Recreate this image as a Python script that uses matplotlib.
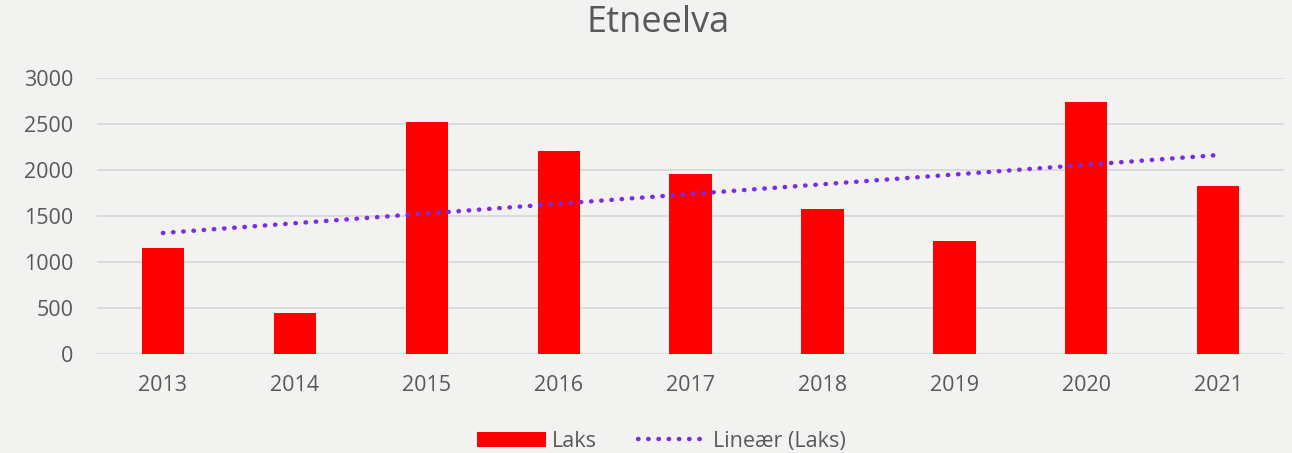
import numpy as np
import matplotlib
matplotlib.use("Agg")
import matplotlib.pyplot as plt

years = ["2013", "2014", "2015", "2016", "2017", "2018", "2019", "2020", "2021"]
laks = [1152, 446, 2522, 2207, 1957, 1576, 1228, 2739, 1826]
yticks = [0, 500, 1000, 1500, 2000, 2500, 3000]

BG = "#F2F2F1"
TEXT = "#595959"
plt.rcParams["font.family"] = ["Open Sans", "DejaVu Sans"]

fig = plt.figure(figsize=(12.92, 4.53), dpi=100, facecolor=BG)
ax = fig.add_axes([0.075, 0.2185, 0.919, 0.6093], facecolor=BG)

x = np.arange(len(years))
bars = ax.bar(x, laks, width=0.32, color="#FF0000", label="Laks", zorder=2)

# linear trend, like Excel's trendline
k, m = np.polyfit(x, laks, 1)
trend, = ax.plot(x, k * x + m, linestyle=(0, (0.1, 2.2)), dash_capstyle="round",
                 linewidth=3.2, color="#7B2BE2", label="Lineær (Laks)", zorder=3)

ax.set_xlim(-0.5, len(years) - 0.5)
ax.set_ylim(0, 3000)
ax.set_yticks(yticks)
ax.set_xticks(x)
ax.set_xticklabels(years)
ax.grid(axis="y", color="#D9D9D9", linewidth=1.3, zorder=0)
ax.tick_params(length=0, labelsize=15.5, labelcolor=TEXT)
ax.tick_params(axis="x", pad=15)
ax.tick_params(axis="y", pad=17)
for s in ax.spines.values():
    s.set_visible(False)

fig.suptitle("Etneelva", fontsize=26, color=TEXT, x=0.509, y=0.99)
fig.legend([bars, trend], ["Laks", "Lineær (Laks)"], loc="lower center",
           bbox_to_anchor=(0.512, -0.04), ncol=2, frameon=False, fontsize=15.5,
           labelcolor=TEXT, handlelength=3.2, handleheight=0.7,
           columnspacing=1.9, handletextpad=0.3)

fig.savefig("out.png", dpi=100, facecolor=BG)
